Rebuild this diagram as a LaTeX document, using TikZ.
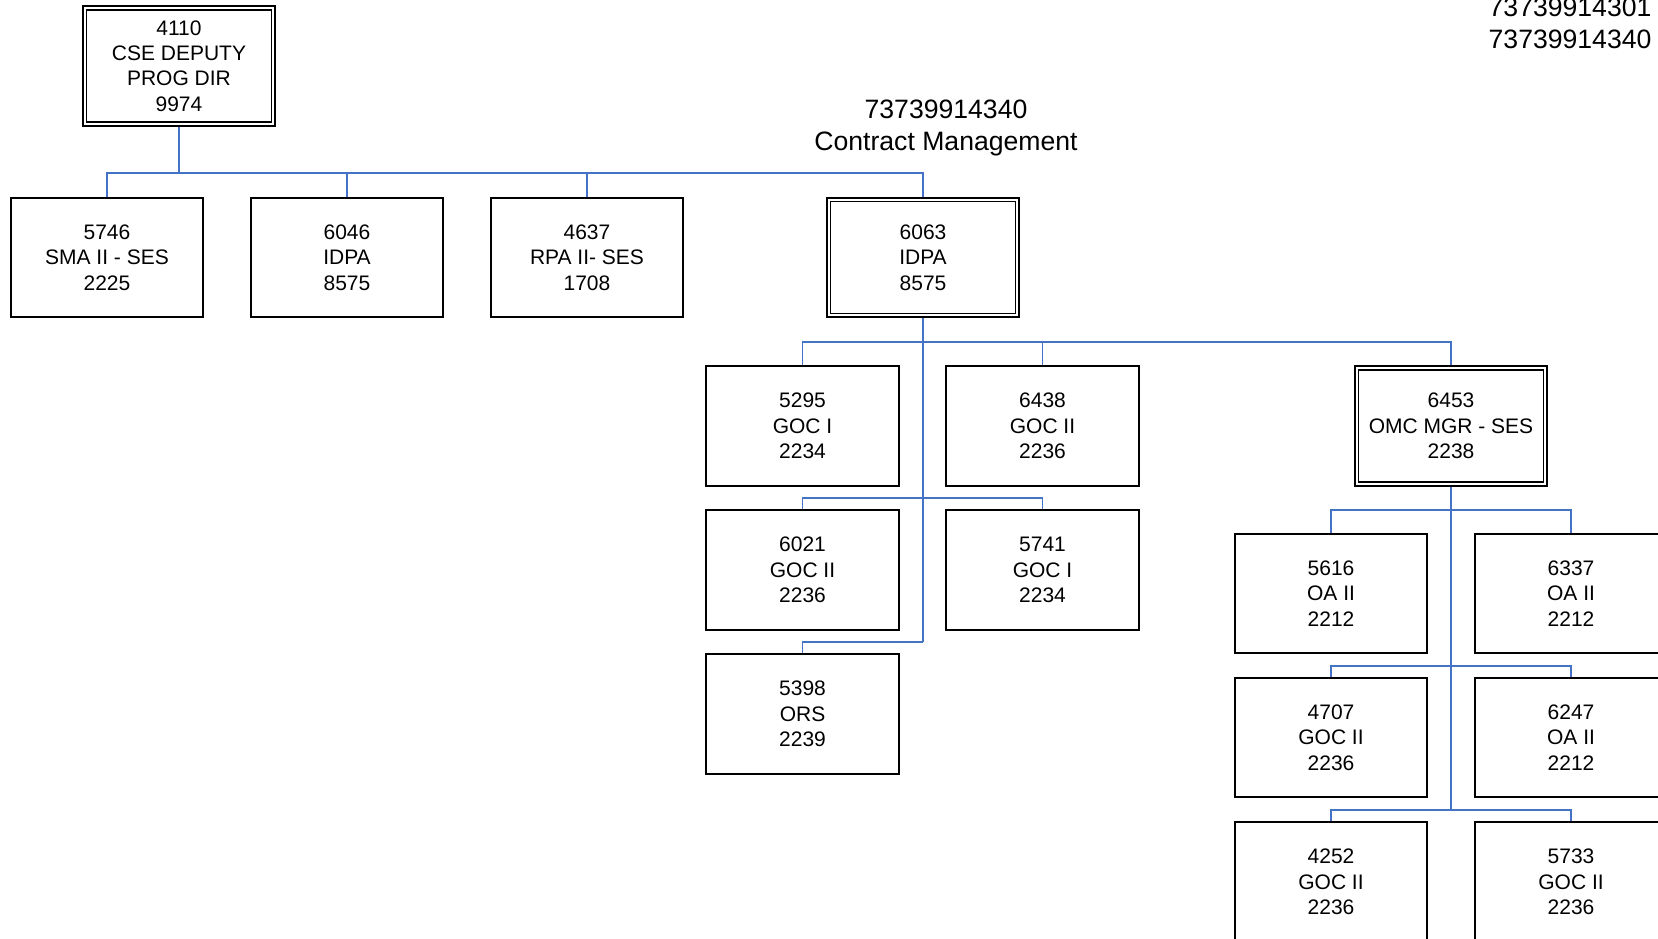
\documentclass[tikz,border=0pt]{standalone}
\usepackage{fontspec}
\setmainfont{Liberation Sans}
\pgfdeclarelayer{background}
\pgfsetlayers{background,main}
\definecolor{conncol}{RGB}{68,114,196}
\tikzset{
  x=1pt, y=1pt,
  box/.style={draw=black, line width=1.8pt, fill=white, minimum width=192.5pt, minimum height=119.5pt,
    inner sep=0pt, align=center, font=\fontsize{21}{25.4}\selectfont},
  dbox/.style={box, double=white, double distance=2pt, minimum width=188.7pt, minimum height=115.7pt},
  conn/.style={draw=conncol, line width=1.8pt},
  big/.style={font=\fontsize{26.6}{32}\selectfont, inner sep=0pt}
}
\begin{document}
\begin{tikzpicture}
\useasboundingbox (0,0) rectangle (1658,-938);
\clip (0,0) rectangle (1658,-938);
% headings
\node[big, anchor=base east] (t1) at (1651.6,-16) {73739914301};
\node[big, anchor=base east] (t2) at (1651.6,-48) {73739914340};
\node[big, anchor=base] (h1) at (946,-118.5) {73739914340};
\node[big, anchor=base] (h2) at (946,-150) {Contract Management};
% top level
\node[dbox] (n4110) at (179,-65.9) {4110\\CSE DEPUTY\\PROG DIR\\9974};
\node[box] (n5746) at (107,-257.5) {5746\\SMA II - SES\\2225};
\node[box] (n6046) at (347,-257.5) {6046\\IDPA\\8575};
\node[box] (n4637) at (587,-257.5) {4637\\RPA II- SES\\1708};
\node[dbox] (n6063) at (923,-257.5) {6063\\IDPA\\8575};
% 6063 subtree
\node[box] (n5295) at (802.5,-426) {5295\\GOC I\\2234};
\node[box] (n6438) at (1042.5,-426) {6438\\GOC II\\2236};
\node[dbox] (n6453) at (1451,-426) {6453\\OMC MGR - SES\\2238};
\node[box] (n6021) at (802.5,-570) {6021\\GOC II\\2236};
\node[box] (n5741) at (1042.5,-570) {5741\\GOC I\\2234};
\node[box] (n5398) at (802.5,-714) {5398\\ORS\\2239};
% 6453 subtree
\node[box] (n5616) at (1331,-593.5) {5616\\OA II\\2212};
\node[box] (n6337) at (1571,-593.5) {6337\\OA II\\2212};
\node[box] (n4707) at (1331,-737.5) {4707\\GOC II\\2236};
\node[box] (n6247) at (1571,-737.5) {6247\\OA II\\2212};
\node[box] (n4252) at (1331,-882) {4252\\GOC II\\2236};
\node[box] (n5733) at (1571,-882) {5733\\GOC II\\2236};
% bus coordinates
\coordinate (b1) at (179,-173);
\coordinate (b2) at (923,-342);
\coordinate (b3) at (923,-498);
\coordinate (b4) at (923,-642);
\coordinate (c1) at (1451,-510);
\coordinate (c2) at (1451,-666);
\coordinate (c3) at (1451,-810);
\begin{pgfonlayer}{background}
\draw[conn] (n4110.south) -- (b1);
\draw[conn] (b1) -| (n5746.north);
\draw[conn] (b1) -| (n6046.north);
\draw[conn] (b1) -| (n4637.north);
\draw[conn] (b1) -| (n6063.north);
\draw[conn] (n6063.south) -- (b4);
\draw[conn] (b2) -| (n5295.north);
\draw[conn] (b2) -| (n6438.north);
\draw[conn] (b2) -| (n6453.north);
\draw[conn] (b3) -| (n6021.north);
\draw[conn] (b3) -| (n5741.north);
\draw[conn] (b4) -| (n5398.north);
\draw[conn] (n6453.south) -- (c3);
\draw[conn] (c1) -| (n5616.north);
\draw[conn] (c1) -| (n6337.north);
\draw[conn] (c2) -| (n4707.north);
\draw[conn] (c2) -| (n6247.north);
\draw[conn] (c3) -| (n4252.north);
\draw[conn] (c3) -| (n5733.north);
\end{pgfonlayer}
\end{tikzpicture}
\end{document}
